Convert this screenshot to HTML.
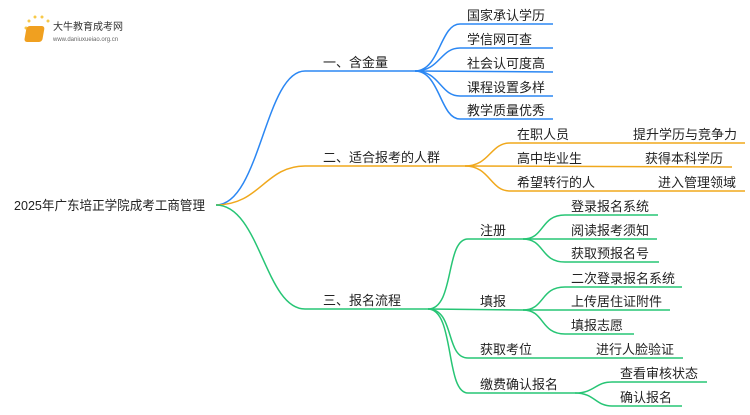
<!DOCTYPE html>
<html><head><meta charset="utf-8"><style>
body{margin:0;width:750px;height:410px;background:#fff;overflow:hidden}
svg text{font-family:"Liberation Sans","Noto Sans CJK SC",sans-serif;font-size:13px;fill:#222}
</style></head><body>
<svg width="750" height="410" xmlns="http://www.w3.org/2000/svg">
<g transform="translate(20,8)">
<circle cx="6" cy="20" r="1.5" fill="#f7c948"/><circle cx="9" cy="13" r="1.5" fill="#f7c948"/><circle cx="15" cy="9" r="1.5" fill="#f7c948"/><circle cx="22" cy="9" r="1.5" fill="#f7c948"/><circle cx="28" cy="13" r="1.5" fill="#f7c948"/>
<rect x="10" y="18" width="18" height="16" rx="3" fill="#f0a020" transform="skewX(-10)"/>
<text x="33" y="22" style="font-size:10px;fill:#333">大牛教育成考网</text>
<text x="33" y="33" style="font-size:6px;fill:#666">www.daniuxueiao.org.cn</text>
</g>
<text x="14" y="210" style="font-size:13px" textLength="191" lengthAdjust="spacingAndGlyphs">2025年广东培正学院成考工商管理</text>
<g fill="none" stroke-width="1.5">
<g stroke="#2b87f3">
<path d="M216 205 C 260 205,265 71,305 71 L415 71"/>
<path d="M415 71 C 440 71,440 24,460 24 L553 24"/>
<path d="M415 71 C 440 71,440 48,460 48 L553 48"/>
<path d="M415 71 L553 72"/>
<path d="M415 71 C 440 71,440 96,460 96 L553 96"/>
<path d="M415 71 C 440 71,440 119,460 119 L553 119"/>
</g>
<g stroke="#f0a81c">
<path d="M216 205 C 260 205,265 166,305 166 L465 166"/>
<path d="M465 166 C 490 166,490 143,510 143 L745 143"/>
<path d="M465 166 L732 167"/>
<path d="M465 166 C 490 166,490 191,510 191 L745 191"/>
</g>
<g stroke="#27c575">
<path d="M216 205 C 260 205,265 309,305 309 L428 309"/>
<path d="M428 309 C 455 309,445 239,468 239 L523 239"/>
<path d="M428 309 L523 310"/>
<path d="M428 309 C 455 309,445 358,468 358 L683 358"/>
<path d="M428 309 C 455 309,445 393,468 393 L575 393"/>
<path d="M523 239 C 545 239,540 215,565 215 L658 215"/>
<path d="M523 239 L657 239"/>
<path d="M523 239 C 545 239,540 262,565 262 L659 262"/>
<path d="M523 310 C 545 310,540 287,565 287 L682 287"/>
<path d="M523 310 L670 310"/>
<path d="M523 310 C 545 310,540 334,565 334 L634 334"/>
<path d="M575 393 C 595 393,595 382,612 382 L707 382"/>
<path d="M575 393 C 595 393,595 406,612 406 L682 406"/>
</g>
</g>
<text x="323" y="67">一、含金量</text>
<text x="467" y="20">国家承认学历</text>
<text x="467" y="44">学信网可查</text>
<text x="467" y="68">社会认可度高</text>
<text x="467" y="92">课程设置多样</text>
<text x="467" y="115">教学质量优秀</text>
<text x="323" y="162">二、适合报考的人群</text>
<text x="517" y="139">在职人员</text><text x="633" y="139">提升学历与竞争力</text>
<text x="517" y="163">高中毕业生</text><text x="645" y="163">获得本科学历</text>
<text x="517" y="187">希望转行的人</text><text x="658" y="187">进入管理领域</text>
<text x="323" y="305">三、报名流程</text>
<text x="480" y="235">注册</text>
<text x="480" y="306">填报</text>
<text x="480" y="354">获取考位</text><text x="596" y="354">进行人脸验证</text>
<text x="480" y="389">缴费确认报名</text>
<text x="571" y="211">登录报名系统</text>
<text x="571" y="235">阅读报考须知</text>
<text x="571" y="258">获取预报名号</text>
<text x="571" y="283">二次登录报名系统</text>
<text x="571" y="306">上传居住证附件</text>
<text x="571" y="330">填报志愿</text>
<text x="620" y="378">查看审核状态</text>
<text x="620" y="402">确认报名</text>
</svg>
</body></html>
